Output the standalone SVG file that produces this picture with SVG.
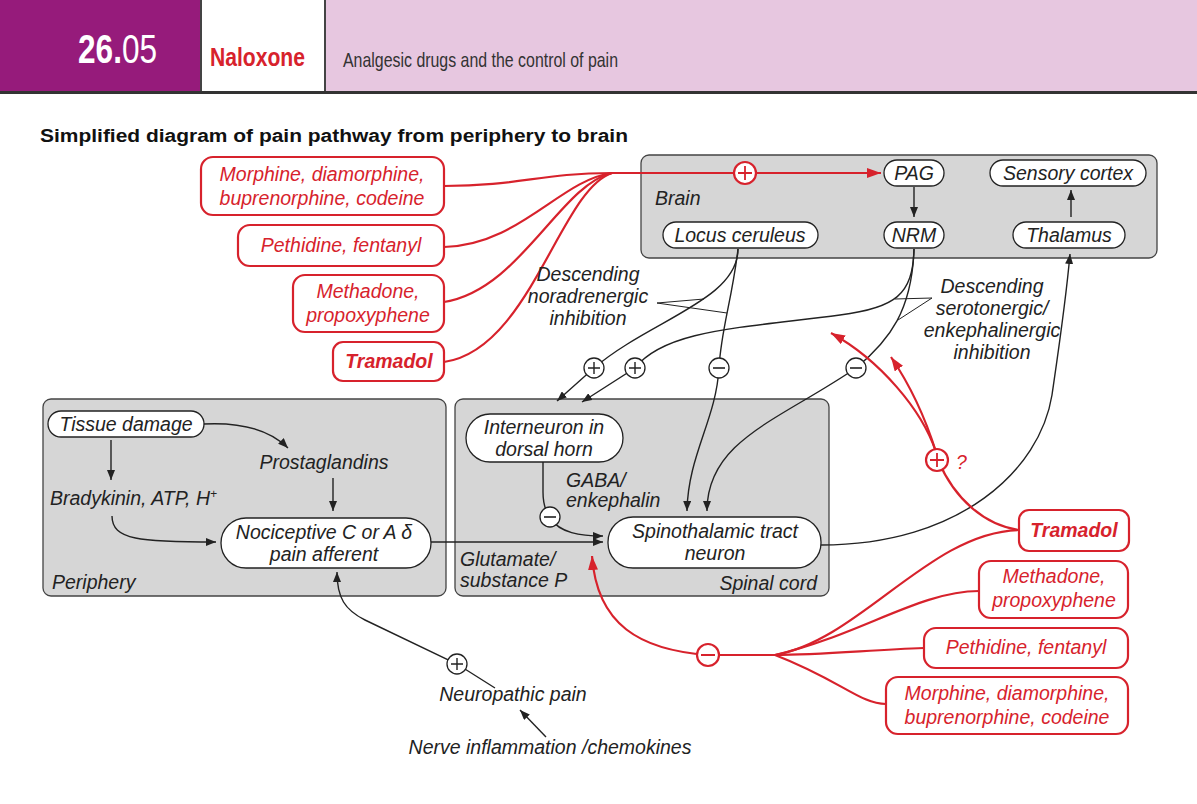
<svg xmlns="http://www.w3.org/2000/svg" width="1197" height="804" viewBox="0 0 1197 804">
  <style>
    .t { font-family: "Liberation Sans", Arial, sans-serif; font-style: italic; font-size: 19.5px; fill: #222; }
    .tr { font-family: "Liberation Sans", Arial, sans-serif; font-style: italic; font-size: 19.5px; fill: #d7222c; }
    .mid { text-anchor: middle; }
    .region { fill: #d6d6d6; stroke: #444; stroke-width: 1.3; }
    .pill { fill: #fff; stroke: #222; stroke-width: 1.3; }
    .drug { fill: #fff; stroke: #d7222c; stroke-width: 2.2; }
    .bl { fill: none; stroke: #222; stroke-width: 1.4; }
    .rd { fill: none; stroke: #d7222c; stroke-width: 2.2; }
    .call { fill: none; stroke: #222; stroke-width: 1; }
  </style>
  <defs>
    <marker id="ab" viewBox="0 0 10 8" refX="10" refY="4" markerWidth="10" markerHeight="8" orient="auto" markerUnits="userSpaceOnUse">
      <path d="M0,0 L10,4 L0,8 z" fill="#222"/>
    </marker>
    <marker id="ar" viewBox="0 0 14 10" refX="14" refY="5" markerWidth="14" markerHeight="10" orient="auto" markerUnits="userSpaceOnUse">
      <path d="M0,0 L14,5 L0,10 z" fill="#d7222c"/>
    </marker>
    <g id="plusB"><circle r="10" fill="#fff" stroke="#222" stroke-width="1.3"/><path d="M-6,0H6M0,-6V6" stroke="#222" stroke-width="1.4"/></g>
    <g id="minusB"><circle r="10" fill="#fff" stroke="#222" stroke-width="1.3"/><path d="M-6,0H6" stroke="#222" stroke-width="1.6"/></g>
    <g id="plusR"><circle r="11" fill="#fff" stroke="#d7222c" stroke-width="2.2"/><path d="M-7,0H7M0,-7V7" stroke="#d7222c" stroke-width="1.8"/></g>
    <g id="minusR"><circle r="11" fill="#fff" stroke="#d7222c" stroke-width="2.2"/><path d="M-7,0H7" stroke="#d7222c" stroke-width="2"/></g>
  </defs>

  <rect width="1197" height="804" fill="#fff"/>

  <!-- header band -->
  <g id="header">
    <rect x="0" y="0" width="200" height="93" fill="#961b7b"/>
    <rect x="200" y="0" width="125" height="93" fill="#fff"/>
    <rect x="325" y="0" width="872" height="93" fill="#e7c7e0"/>
    <path d="M201,0V93M325,0V93" stroke="#444" stroke-width="2"/>
    <rect x="0" y="91" width="1197" height="3" fill="#333"/>
    <g transform="translate(78,63) scale(0.79,1)">
      <text x="0" y="0" font-family="Liberation Sans, Arial, sans-serif" font-size="40" fill="#fff"><tspan font-weight="bold">26.</tspan>05</text>
    </g>
    <text x="210" y="66" font-family="Liberation Sans, Arial, sans-serif" font-weight="bold" font-size="25" fill="#d7222c" textLength="95" lengthAdjust="spacingAndGlyphs">Naloxone</text>
    <text x="343" y="67" font-family="Liberation Sans, Arial, sans-serif" font-size="21" fill="#333" textLength="275" lengthAdjust="spacingAndGlyphs">Analgesic drugs and the control of pain</text>
  </g>

  <text x="40" y="142" font-family="Liberation Sans, Arial, sans-serif" font-weight="bold" font-size="18" fill="#111" textLength="588" lengthAdjust="spacingAndGlyphs">Simplified diagram of pain pathway from periphery to brain</text>

  <!-- regions -->
  <g id="brain">
    <rect class="region" x="641" y="155" width="516" height="103" rx="8"/>
    <text class="t" x="655" y="205">Brain</text>
  </g>
  <g id="periphery">
    <rect class="region" x="43" y="399" width="403" height="197" rx="8"/>
    <text class="t" x="52" y="589">Periphery</text>
  </g>
  <g id="spinal-cord">
    <rect class="region" x="455" y="399" width="374" height="197" rx="8"/>
    <text class="t" x="817" y="590" text-anchor="end">Spinal cord</text>
  </g>

  <!-- connectors -->
  <g id="connectors">
    <!-- opioids to PAG -->
    <path class="rd" d="M444,186 C520,186 540,173 612,173"/>
    <path class="rd" d="M444,247 C520,245 560,180 612,173"/>
    <path class="rd" d="M444,302 C520,290 560,185 612,173"/>
    <path class="rd" d="M444,362 C530,350 560,190 612,173"/>
    <path class="rd" d="M612,173 L881,173" marker-end="url(#ar)"/>

    <!-- brain internal -->
    <path class="bl" d="M914,187 L914,217" marker-end="url(#ab)"/>
    <path class="bl" d="M1071,217 L1071,190" marker-end="url(#ab)"/>

    <!-- descending noradrenergic -->
    <path class="bl" d="M738,249 C738,300 650,320 594,368 L557,401" marker-end="url(#ab)"/>
    <path class="bl" d="M738,249 C732,300 721,330 719,368 C716,420 688,455 687,511" marker-end="url(#ab)"/>
    <!-- descending serotonergic -->
    <path class="bl" d="M914,249 C913,295 895,308 840,315 C740,328 665,330 635,368 L582,402" marker-end="url(#ab)"/>
    <path class="bl" d="M914,249 C912,310 890,340 856,368 C780,420 707,440 707,511" marker-end="url(#ab)"/>
    <path class="call" d="M657,303 L704,299 M657,303 L727,313"/>
    <path class="call" d="M932,298 L895,299 M932,298 L898,320"/>

    <!-- periphery -->
    <path class="bl" d="M203,424 C240,422 270,430 288,448" marker-end="url(#ab)"/>
    <path class="bl" d="M111,440 L111,480" marker-end="url(#ab)"/>
    <path class="bl" d="M333,478 L333,511" marker-end="url(#ab)"/>
    <path class="bl" d="M112,516 C112,540 140,542 216,542" marker-end="url(#ab)"/>
    <path class="bl" d="M430,542 L603,542" marker-end="url(#ab)"/>

    <!-- neuropathic -->
    <path class="bl" d="M495,688 L457,664 L365,620 C345,610 337,598 337,572" marker-end="url(#ab)"/>
    <path class="bl" d="M546,737 L520,710" marker-end="url(#ab)"/>

    <!-- interneuron to spinothalamic -->
    <path class="bl" d="M543,462 L543,492 C543,505 546,512 550,518 C560,533 580,536 603,536" marker-end="url(#ab)"/>

    <!-- spinothalamic to thalamus -->
    <path class="bl" d="M821,545 C960,545 1040,470 1052,395 C1060,340 1066,300 1070,254" marker-end="url(#ab)"/>

    <!-- opioids acting at spinal cord -->
    <path class="rd" d="M1019,530 C930,532 860,640 775,655"/>
    <path class="rd" d="M979,591 C920,591 860,635 775,655"/>
    <path class="rd" d="M924,648 C870,650 820,655 775,655"/>
    <path class="rd" d="M886,704 C860,704 840,680 775,655"/>
    <path class="rd" d="M775,655 L708,655 C640,650 597,625 592,556" marker-end="url(#ar)"/>

    <!-- tramadol monoamine action -->
    <path class="rd" d="M1019,530 C985,525 955,500 938,460"/>
    <path class="rd" d="M936,452 C922,410 880,360 831,333" marker-end="url(#ar)"/>
    <path class="rd" d="M936,452 C926,420 910,385 891,357" marker-end="url(#ar)"/>

    <!-- signs -->
    <use href="#plusR" x="745" y="173"/>
    <use href="#plusB" x="594" y="368"/>
    <use href="#plusB" x="635" y="368"/>
    <use href="#minusB" x="719" y="368"/>
    <use href="#minusB" x="856" y="368"/>
    <use href="#minusB" x="550" y="517"/>
    <use href="#plusB" x="457" y="664"/>
    <use href="#minusR" x="708" y="655"/>
    <use href="#plusR" x="937" y="460"/>
    <text class="tr" x="956" y="469" font-size="16">?</text>
  </g>

  <!-- brain nodes -->
  <g id="pag"><rect class="pill" x="884" y="160" width="60" height="26" rx="13"/><text class="t mid" x="914" y="180">PAG</text></g>
  <g id="sensory-cortex"><rect class="pill" x="990" y="160" width="156" height="26" rx="13"/><text class="t mid" x="1068" y="180">Sensory cortex</text></g>
  <g id="locus-ceruleus"><rect class="pill" x="663" y="222" width="155" height="26" rx="13"/><text class="t mid" x="740" y="242">Locus ceruleus</text></g>
  <g id="nrm"><rect class="pill" x="884" y="222" width="60" height="26" rx="13"/><text class="t mid" x="914" y="242">NRM</text></g>
  <g id="thalamus"><rect class="pill" x="1013" y="222" width="112" height="26" rx="13"/><text class="t mid" x="1069" y="242">Thalamus</text></g>

  <!-- text labels -->
  <g id="label-noradrenergic">
    <text class="t mid" x="588" y="281">Descending</text>
    <text class="t mid" x="588" y="303">noradrenergic</text>
    <text class="t mid" x="588" y="325">inhibition</text>
  </g>
  <g id="label-serotonergic">
    <text class="t mid" x="992" y="293">Descending</text>
    <text class="t mid" x="992" y="315">serotonergic/</text>
    <text class="t mid" x="992" y="337">enkephalinergic</text>
    <text class="t mid" x="992" y="359">inhibition</text>
  </g>

  <!-- periphery nodes -->
  <g id="tissue-damage"><rect class="pill" x="48" y="411" width="156" height="26" rx="13"/><text class="t mid" x="126" y="431">Tissue damage</text></g>
  <g id="prostaglandins"><text class="t mid" x="324" y="469">Prostaglandins</text></g>
  <g id="bradykinin"><text class="t" x="50" y="505">Bradykinin, ATP, H<tspan font-size="12" dy="-7">+</tspan></text></g>
  <g id="nociceptive"><rect class="pill" x="221" y="518" width="210" height="50" rx="25"/>
    <text class="t mid" x="324" y="539">Nociceptive C or A δ</text>
    <text class="t mid" x="324" y="561">pain afferent</text></g>
  <g id="neuropathic"><text class="t mid" x="513" y="701">Neuropathic pain</text></g>
  <g id="nerve-inflammation"><text class="t mid" x="550" y="754">Nerve inflammation /chemokines</text></g>

  <!-- spinal cord nodes -->
  <g id="interneuron"><rect class="pill" x="466" y="414" width="157" height="48" rx="24"/>
    <text class="t mid" x="544" y="434">Interneuron in</text>
    <text class="t mid" x="544" y="456">dorsal horn</text></g>
  <g id="gaba"><text class="t" x="566" y="487">GABA/</text><text class="t" x="566" y="507">enkephalin</text></g>
  <g id="spinothalamic"><rect class="pill" x="608" y="517" width="213" height="51" rx="25"/>
    <text class="t mid" x="715" y="538">Spinothalamic tract</text>
    <text class="t mid" x="715" y="560">neuron</text></g>
  <g id="glutamate"><text class="t" x="460" y="566">Glutamate/</text><text class="t" x="460" y="587">substance P</text></g>

  <!-- opioid boxes, brain level -->
  <g id="drug-morphine-l"><rect class="drug" x="201" y="157" width="243" height="58" rx="12"/>
    <text class="tr mid" x="322" y="181">Morphine, diamorphine,</text>
    <text class="tr mid" x="322" y="205">buprenorphine, codeine</text></g>
  <g id="drug-pethidine-l"><rect class="drug" x="238" y="225" width="206" height="41" rx="12"/>
    <text class="tr mid" x="341" y="252">Pethidine, fentanyl</text></g>
  <g id="drug-methadone-l"><rect class="drug" x="293" y="275" width="151" height="57" rx="12"/>
    <text class="tr mid" x="368" y="298">Methadone,</text>
    <text class="tr mid" x="368" y="322">propoxyphene</text></g>
  <g id="drug-tramadol-l"><rect class="drug" x="333" y="342" width="111" height="39" rx="10"/>
    <text class="tr mid" x="389" y="368" font-weight="bold">Tramadol</text></g>

  <!-- opioid boxes, spinal level -->
  <g id="drug-tramadol-r"><rect class="drug" x="1019" y="510" width="110" height="41" rx="10"/>
    <text class="tr mid" x="1074" y="537" font-weight="bold">Tramadol</text></g>
  <g id="drug-methadone-r"><rect class="drug" x="979" y="561" width="149" height="57" rx="12"/>
    <text class="tr mid" x="1054" y="583">Methadone,</text>
    <text class="tr mid" x="1054" y="607">propoxyphene</text></g>
  <g id="drug-pethidine-r"><rect class="drug" x="924" y="628" width="204" height="40" rx="12"/>
    <text class="tr mid" x="1026" y="654">Pethidine, fentanyl</text></g>
  <g id="drug-morphine-r"><rect class="drug" x="886" y="677" width="242" height="57" rx="12"/>
    <text class="tr mid" x="1007" y="700">Morphine, diamorphine,</text>
    <text class="tr mid" x="1007" y="724">buprenorphine, codeine</text></g>
</svg>
